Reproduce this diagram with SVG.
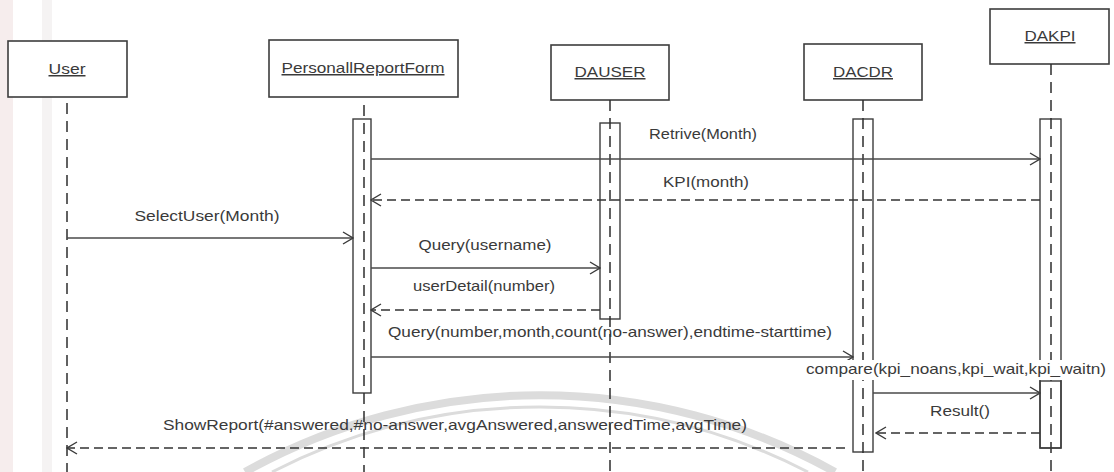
<svg xmlns="http://www.w3.org/2000/svg" width="1114" height="472" viewBox="0 0 1114 472">
  <style>
    .obj { fill: #ffffff; stroke: #3d3d3d; stroke-width: 1.6; }
    .act { fill: #ffffff; stroke: #3d3d3d; stroke-width: 1.4; }
    .act2 { fill: none; stroke: #3d3d3d; stroke-width: 1.4; }
    .life { fill: none; stroke: #2e2e2e; stroke-width: 1.5; stroke-dasharray: 11 7; }
    .name { font-family: "Liberation Sans", Arial, sans-serif; font-size: 15px; fill: #3a3a3a; text-anchor: middle; text-decoration: underline; }
    .msg { fill: none; stroke: #4a4a4a; stroke-width: 1.4; marker-end: url(#open); }
    .ret { fill: none; stroke: #333333; stroke-width: 1.5; stroke-dasharray: 9 5; marker-end: url(#open); }
    .lbl { font-family: "Liberation Sans", Arial, sans-serif; font-size: 15px; fill: #3a3a3a; }
    .mid { text-anchor: middle; }
    .wm { fill: none; stroke: #dcdcdc; }
  </style>
  <defs>
    <marker id="open" viewBox="0 0 12 14" refX="11" refY="7" markerWidth="12" markerHeight="14" markerUnits="userSpaceOnUse" orient="auto">
      <path d="M1,1 L11,7 L1,13" fill="none" stroke="#3a3a3a" stroke-width="1.4"/>
    </marker>
  </defs>

  <rect width="1114" height="472" fill="#ffffff"/>
  <!-- paper edge tint and faint seal behind the drawing -->
  <rect x="0" y="0" width="13" height="472" fill="#f6eded"/>
  <rect x="42" y="0" width="10" height="472" fill="#f5f3f3"/>
  <path class="wm" stroke-width="8" d="M 245 472 A 605 605 0 0 1 835 472"/>
  <path class="wm" stroke-width="3" stroke="#e4e4e4" d="M 272 472 A 585 585 0 0 1 808 472"/>

  <!-- participants -->
  <g id="user">
    <rect class="obj" x="8" y="41" width="119" height="56"/>
    <text class="name" x="67" y="74" textLength="37" lengthAdjust="spacingAndGlyphs">User</text>
    <line class="life" x1="67" y1="103" x2="67" y2="472"/>
  </g>

  <g id="personal-report-form">
    <rect class="obj" x="269" y="40" width="189" height="57"/>
    <text class="name" x="363" y="73" textLength="163" lengthAdjust="spacingAndGlyphs">PersonallReportForm</text>
    <rect class="act" x="353" y="119" width="18" height="274"/>
    <line class="life" x1="364" y1="105" x2="364" y2="472"/>
  </g>

  <g id="dauser">
    <rect class="obj" x="551" y="45" width="118" height="55"/>
    <text class="name" x="610" y="77" textLength="71" lengthAdjust="spacingAndGlyphs">DAUSER</text>
    <rect class="act" x="600" y="123" width="20" height="196"/>
    <line class="life" x1="610" y1="100" x2="610" y2="472"/>
  </g>

  <g id="dacdr">
    <rect class="obj" x="804" y="44" width="118" height="56"/>
    <text class="name" x="863" y="77" textLength="60" lengthAdjust="spacingAndGlyphs">DACDR</text>
    <rect class="act" x="853" y="119" width="20" height="333"/>
    <line class="life" x1="863" y1="100" x2="863" y2="472"/>
  </g>

  <g id="dakpi">
    <rect class="obj" x="990" y="9" width="119" height="55"/>
    <text class="name" x="1050" y="41" textLength="51" lengthAdjust="spacingAndGlyphs">DAKPI</text>
    <rect class="act" x="1040" y="119" width="21" height="329"/>
    <line class="life" x1="1051" y1="64" x2="1051" y2="472"/>
  </g>

  <!-- messages -->
  <g id="connectors">
    <line class="msg" x1="371" y1="159" x2="1040" y2="159"/>
    <line class="ret" x1="1040" y1="200" x2="371" y2="200"/>
    <line class="msg" x1="67" y1="238" x2="353" y2="238"/>
    <line class="msg" x1="371" y1="268" x2="600" y2="268"/>
    <line class="ret" x1="600" y1="310" x2="371" y2="310"/>
    <line class="msg" x1="371" y1="357" x2="853" y2="357"/>
    <line class="msg" x1="873" y1="393" x2="1040" y2="393"/>
    <line class="ret" x1="1040" y1="433" x2="876" y2="433"/>
    <line class="ret" x1="845" y1="448" x2="67" y2="448"/>
  </g>

  <!-- message labels -->
  <g id="labels">
    <text class="lbl mid" x="703" y="139" textLength="108" lengthAdjust="spacingAndGlyphs">Retrive(Month)</text>
    <text class="lbl mid" x="706" y="187" textLength="86" lengthAdjust="spacingAndGlyphs">KPI(month)</text>
    <text class="lbl mid" x="207" y="221" textLength="145" lengthAdjust="spacingAndGlyphs">SelectUser(Month)</text>
    <text class="lbl mid" x="485" y="250" textLength="133" lengthAdjust="spacingAndGlyphs">Query(username)</text>
    <text class="lbl mid" x="484" y="291" textLength="142" lengthAdjust="spacingAndGlyphs">userDetail(number)</text>
    <text class="lbl" x="388" y="337" textLength="444" lengthAdjust="spacingAndGlyphs">Query(number,month,count(no-answer),endtime-starttime)</text>
    <rect x="803" y="360" width="306" height="20" fill="#ffffff"/>
    <text class="lbl mid" x="956" y="374" textLength="300" lengthAdjust="spacingAndGlyphs">compare(kpi_noans,kpi_wait,kpi_waitn)</text>
    <text class="lbl mid" x="960" y="416" textLength="60" lengthAdjust="spacingAndGlyphs">Result()</text>
    <text class="lbl" x="163" y="430" textLength="584" lengthAdjust="spacingAndGlyphs">ShowReport(#answered,#no-answer,avgAnswered,answeredTime,avgTime)</text>
  </g>

  <!-- DAKPI activation for the compare call -->
  <rect class="act2" x="1040" y="381" width="21" height="67"/>
</svg>
